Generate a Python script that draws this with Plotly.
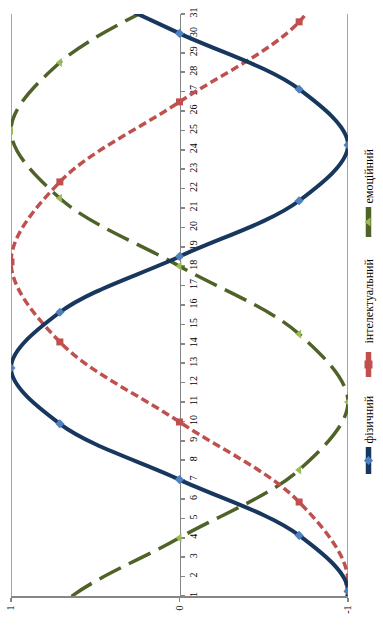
import plotly.graph_objects as go

# Physical (фізичний) – days and values
phys_days = [-1.625, 1.25, 4.125, 7.0, 9.875, 12.75, 15.625, 18.5, 21.375, 24.25, 27.125, 30.0, 32.875]
phys_vals = [-0.71, -1, -0.71, 0, 0.71, 1, 0.71, 0, -0.71, -1, -0.71, 0, 0.71]

# Intellectual (інтелектуальний)
intel_days = [-2.405, 1.72, 5.845, 9.97, 14.095, 18.22, 22.345, 26.47, 30.595, 34.72]
intel_vals = [-0.71, -1, -0.71, 0, 0.71, 1, 0.71, 0, -0.71, -1]

# Emotional (емоційний)
emo_days = [-3.0, 0.5, 4.0, 7.5, 11.0, 14.5, 18.0, 21.5, 25.0, 28.5, 32.0]
emo_vals = [1, 0.71, 0, -0.71, -1, -0.71, 0, 0.71, 1, 0.71, 0]

day_ticks = list(range(1, 32))
value_ticks = [-1, 0, 1]
value_labels = ["-1", "0", "1"]
series_names = ["фізичний", "інтелектуальний", "емоційний"]

W, H = 383, 625
FONT = "Liberation Serif, Times New Roman, serif"
GRAY = "#868686"

BLUE_L, BLUE_M = "#17375E", "#4F81BD"
RED_L, RED_M = "#C0504D", "#C0504D"
GRN_L, GRN_M = "#4F6228", "#9BBB59"

fig = go.Figure()

fig.add_trace(go.Scatter(x=emo_vals, y=emo_days, mode="lines+markers", line_shape="spline",
                         line=dict(color=GRN_L, width=3.5, dash="24px,9px"),
                         marker=dict(symbol="triangle-left", size=8, color=GRN_M),
                         showlegend=False, hoverinfo="skip"))
fig.add_trace(go.Scatter(x=intel_vals, y=intel_days, mode="lines+markers", line_shape="spline",
                         line=dict(color=RED_L, width=3.5, dash="8px,4px"),
                         marker=dict(symbol="square", size=7, color=RED_M),
                         showlegend=False, hoverinfo="skip"))
fig.add_trace(go.Scatter(x=phys_vals, y=phys_days, mode="lines+markers", line_shape="spline",
                         line=dict(color=BLUE_L, width=4),
                         marker=dict(symbol="diamond", size=7, color=BLUE_M),
                         showlegend=False, hoverinfo="skip"))

# gridlines at value 1 and -1
for v in [1, -1]:
    fig.add_shape(type="line", xref="x", yref="y", x0=v, x1=v, y0=1, y1=31,
                  line=dict(color=GRAY, width=1.5), layer="below")

# legend (rotated) on helper axes in pixel units
leg = [
    (series_names[0], BLUE_L, BLUE_M, "diamond", 7, 447, 474, 420),
    (series_names[1], RED_L, RED_M, "square", 8, 352, 377, 301),
    (series_names[2], GRN_L, GRN_M, "triangle-left", 8, 207, 237, 176),
]
lx = 368.5
for name, lc, mc, sym, ms, y0, y1, ty in leg:
    fig.add_trace(go.Scatter(x=[lx, lx], y=[y0, y1], mode="lines", xaxis="x2", yaxis="y2",
                             line=dict(color=lc, width=5.5), showlegend=False, hoverinfo="skip"))
    fig.add_trace(go.Scatter(x=[lx], y=[(y0 + y1) / 2], mode="markers", xaxis="x2", yaxis="y2",
                             marker=dict(symbol=sym, size=ms, color=mc), showlegend=False,
                             hoverinfo="skip"))
    fig.add_annotation(x=lx, y=ty, xref="x2", yref="y2", text=name, textangle=-90,
                       showarrow=False, font=dict(family=FONT, size=12, color="#000000"))

xd = [11 / W, 348 / W]
yd = [(H - 596) / H, (H - 14) / H]

fig.update_layout(
    template="none",
    width=W, height=H,
    margin=dict(l=0, r=0, t=0, b=0, pad=0),
    paper_bgcolor="white", plot_bgcolor="rgba(0,0,0,0)",
    font=dict(family=FONT, size=10, color="#000000"),
    hovermode=False,
    xaxis=dict(domain=xd, range=[1, -1], tickvals=value_ticks, ticktext=value_labels,
               tickangle=-90, ticks="outside", ticklen=4, tickcolor=GRAY, tickwidth=1.5,
               showline=True, linecolor=GRAY, linewidth=1.5, showgrid=False, zeroline=False,
               tickfont=dict(family=FONT, size=10), anchor="y", automargin=False),
    yaxis=dict(domain=yd, range=[1, 31], tickvals=day_ticks, tickangle=-90,
               anchor="free", position=(xd[0] + xd[1]) / 2, side="right",
               ticks="outside", ticklen=4, tickcolor=GRAY, tickwidth=1.5,
               showline=True, linecolor=GRAY, linewidth=1.5, showgrid=False, zeroline=False,
               layer="below traces", tickfont=dict(family=FONT, size=10), automargin=False),
    xaxis2=dict(domain=[0, 1], range=[0, W], visible=False, anchor="y2", automargin=False),
    yaxis2=dict(domain=[0, 1], range=[H, 0], visible=False, anchor="x2", automargin=False),
)

fig.write_html("out.html", config={"displayModeBar": False, "staticPlot": True},
               post_script="document.body.style.margin='0px';document.body.style.padding='0px';")
